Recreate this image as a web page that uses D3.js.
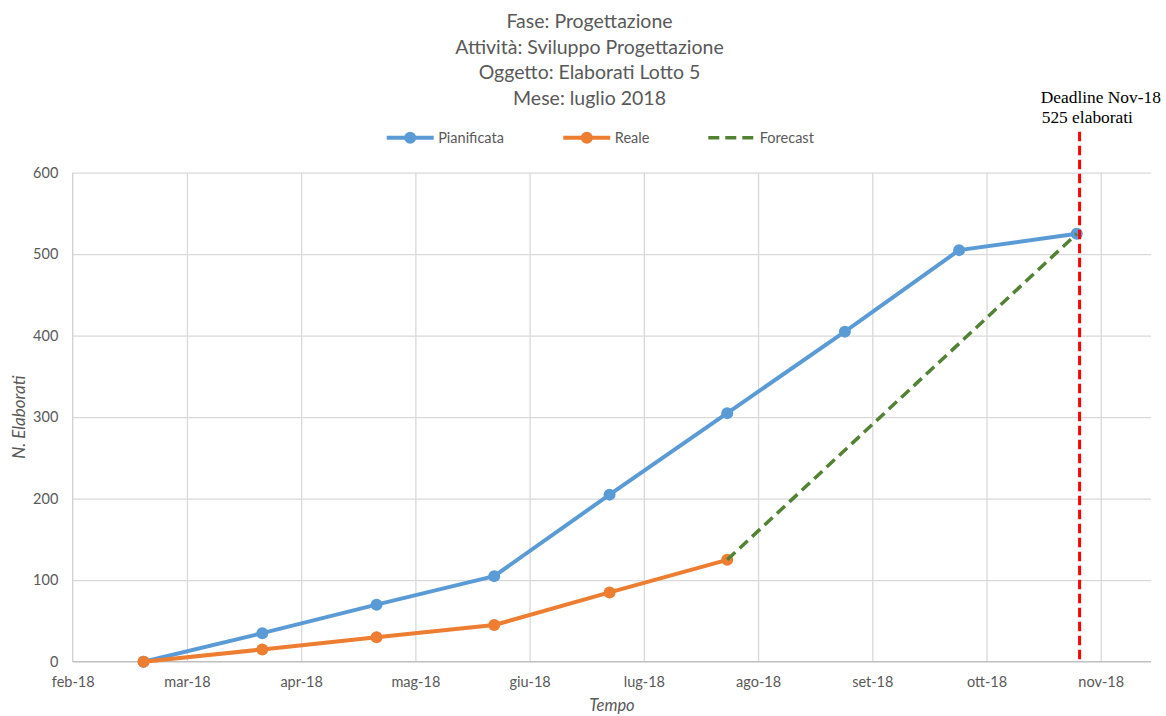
<!DOCTYPE html>
<html><head><meta charset="utf-8">
<script src="https://cdn.jsdelivr.net/npm/d3@7"></script>
<style>
html,body{margin:0;padding:0;background:#fff;}
svg{display:block;}
</style></head>
<body>
<svg id="chart" width="1166" height="716"></svg>
<script>
// ---- data ----
const titleLines = ["Fase: Progettazione", "Attività: Sviluppo Progettazione", "Oggetto: Elaborati Lotto 5", "Mese: luglio 2018"];
const monthLabels = ["feb-18","mar-18","apr-18","mag-18","giu-18","lug-18","ago-18","set-18","ott-18","nov-18"];
const yTicks = [0,100,200,300,400,500,600];
// x position in months after feb-18 tick
const pianificataX = [0.62, 1.66, 2.66, 3.69, 4.70, 5.73, 6.76, 7.76, 8.79];
const pianificata  = [0, 35, 70, 105, 205, 305, 405, 505, 525];
const realeX = [0.62, 1.66, 2.66, 3.69, 4.70, 5.73];
const reale  = [0, 15, 30, 45, 85, 125];
const forecastX = [5.73, 8.79];
const forecast  = [125, 525];
const deadlineX = 8.815;
const deadlineLabel = ["Deadline Nov-18", "525 elaborati"];
const seriesNames = ["Pianificata", "Reale", "Forecast"];

// ---- chart ----
const svg = d3.select("#chart");
const font = "Lato, 'Open Sans', sans-serif";
const grey = "#595959";
const x = d3.scaleLinear().domain([0, 9.44]).range([72.7, 1151]);
const y = d3.scaleLinear().domain([0, 600]).range([661.7, 172.7]);

// title
svg.append("g").selectAll("text").data(titleLines).join("text")
  .attr("x", 589.5).attr("y", (d,i) => 27.8 + i*25.7)
  .attr("text-anchor", "middle").attr("font-family", font).attr("font-size", 19.5)
  .attr("fill", grey).text(d => d);

// gridlines
const gy = svg.append("g").attr("transform", `translate(${x(0)},0)`)
  .call(d3.axisLeft(y).tickValues(yTicks.slice(1)).tickSize(-(x.range()[1]-x(0))).tickFormat(""));
gy.select(".domain").remove();
gy.selectAll("line").attr("stroke", "#d9d9d9").attr("stroke-width", 1.3);

const gx = svg.append("g").attr("transform", `translate(0,${y(0)})`)
  .call(d3.axisBottom(x).tickValues(d3.range(1, monthLabels.length)).tickSize(-(y(0)-y(600))).tickFormat(""));
gx.select(".domain").remove();
gx.selectAll("line").attr("stroke", "#d9d9d9").attr("stroke-width", 1.3);

// axes lines
svg.append("line").attr("x1", x(0)).attr("x2", x(0)).attr("y1", y(600)).attr("y2", y(0))
  .attr("stroke", "#d0d0d0").attr("stroke-width", 1.3);
svg.append("line").attr("x1", x(0)).attr("x2", x.range()[1]).attr("y1", y(0)).attr("y2", y(0))
  .attr("stroke", "#bfbfbf").attr("stroke-width", 1.5);

// y tick labels
const ya = svg.append("g").attr("transform", `translate(${x(0)-14.4},0)`)
  .call(d3.axisLeft(y).tickValues(yTicks).tickSize(0));
ya.select(".domain").remove();
ya.selectAll("text").attr("font-family", font).attr("font-size", 14.5).attr("fill", grey).attr("x", 0);

// x tick labels
const xa = svg.append("g").attr("transform", `translate(0,${y(0)+15})`)
  .call(d3.axisBottom(x).tickValues(d3.range(monthLabels.length)).tickSize(0).tickFormat(i => monthLabels[i]));
xa.select(".domain").remove();
xa.selectAll("text").attr("font-family", font).attr("font-size", 14.5).attr("fill", grey).attr("dy", "0.71em").attr("y", 0);

// axis titles
svg.append("text").attr("x", 612).attr("y", 710.5).attr("text-anchor", "middle")
  .attr("font-family", font).attr("font-size", 16.5).attr("font-style", "italic").attr("fill", grey).text("Tempo");
svg.append("text").attr("transform", `translate(24.5,${(y(0)+y(600))/2}) rotate(-90)`).attr("text-anchor", "middle")
  .attr("font-family", font).attr("font-size", 17).attr("font-style", "italic").attr("fill", grey).text("N. Elaborati");

// lines
const line = d3.line().x(d => x(d[0])).y(d => y(d[1]));
const pianData = pianificataX.map((v,i) => [v, pianificata[i]]);
const realeData = realeX.map((v,i) => [v, reale[i]]);
const fcData = forecastX.map((v,i) => [v, forecast[i]]);
const blue = "#5B9BD5", orange = "#ED7D31", green = "#548235";

svg.append("path").datum(pianData).attr("d", line).attr("fill", "none").attr("stroke", blue).attr("stroke-width", 4).attr("stroke-linejoin", "round");
svg.append("g").selectAll("circle").data(pianData).join("circle")
  .attr("cx", d => x(d[0])).attr("cy", d => y(d[1])).attr("r", 6).attr("fill", blue);

svg.append("path").datum(realeData).attr("d", line).attr("fill", "none").attr("stroke", orange).attr("stroke-width", 4).attr("stroke-linejoin", "round");
svg.append("g").selectAll("circle").data(realeData).join("circle")
  .attr("cx", d => x(d[0])).attr("cy", d => y(d[1])).attr("r", 6).attr("fill", orange);

svg.append("path").datum(fcData).attr("d", line).attr("fill", "none").attr("stroke", green).attr("stroke-width", 3.5).attr("stroke-dasharray", "11,6");

// deadline
svg.append("line").attr("x1", x(deadlineX)).attr("x2", x(deadlineX)).attr("y1", 131.7).attr("y2", y(0))
  .attr("stroke", "#FF0000").attr("stroke-width", 3).attr("stroke-dasharray", "9.5,4.5");
svg.append("g").selectAll("text").data(deadlineLabel).join("text")
  .attr("x", (d,i) => 1040.7 + i).attr("y", (d,i) => 102.7 + i*20.6)
  .attr("font-family", "'Liberation Serif', 'Times New Roman', serif").attr("font-size", 17.4).attr("fill", "#000").text(d => d);

// legend
const legend = svg.append("g");
const legY = 137.7;
const legItems = [
  {name: seriesNames[0], color: blue, x0: 386.7, marker: true, dash: null},
  {name: seriesNames[1], color: orange, x0: 563.3, marker: true, dash: null},
  {name: seriesNames[2], color: green, x0: 708.3, marker: false, dash: "11,6"}
];
legItems.forEach(it => {
  legend.append("line").attr("x1", it.x0).attr("x2", it.x0 + 47).attr("y1", legY).attr("y2", legY)
    .attr("stroke", it.color).attr("stroke-width", it.dash ? 3.5 : 4).attr("stroke-dasharray", it.dash);
  if (it.marker) legend.append("circle").attr("cx", it.x0 + 23.5).attr("cy", legY).attr("r", 6).attr("fill", it.color);
  legend.append("text").attr("x", it.x0 + 51.5).attr("y", legY).attr("dy", "0.35em")
    .attr("font-family", font).attr("font-size", 14.5).attr("fill", grey).text(it.name);
});
</script>
</body></html>
